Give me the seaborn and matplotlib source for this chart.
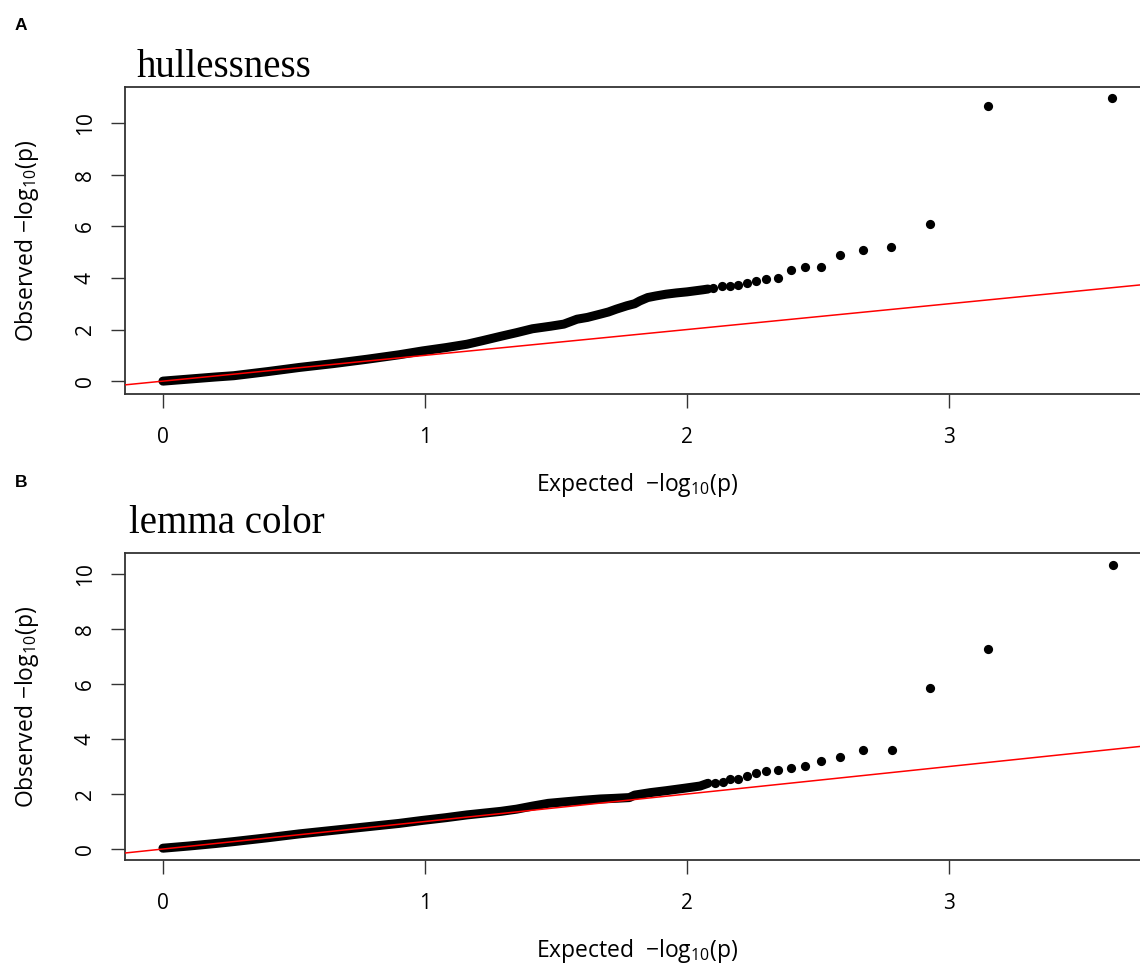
import numpy as np
import matplotlib
matplotlib.use("Agg")
import matplotlib.pyplot as plt
import seaborn as sns

# Values (expected vs observed -log10 p)
# panel A: hullessness
a_band_exp = [0.00, 0.10, 0.20, 0.27, 0.40, 0.52, 0.65, 0.78, 0.90, 0.99, 1.08, 1.16,
              1.22, 1.29, 1.35, 1.41, 1.48, 1.53, 1.58, 1.62, 1.67, 1.70, 1.73, 1.77,
              1.80, 1.82, 1.85, 1.88, 1.92, 1.96, 2.00, 2.03, 2.06, 2.08]
a_band_obs = [0.00, 0.08, 0.16, 0.21, 0.37, 0.53, 0.68, 0.85, 1.02, 1.17, 1.30, 1.43,
              1.57, 1.74, 1.88, 2.03, 2.13, 2.21, 2.40, 2.47, 2.60, 2.68, 2.79, 2.92,
              3.00, 3.11, 3.24, 3.30, 3.37, 3.42, 3.46, 3.50, 3.54, 3.57]
a_tail_exp = [2.10, 2.132, 2.164, 2.195, 2.229, 2.265, 2.303, 2.346, 2.397, 2.450,
              2.511, 2.584, 2.673, 2.780, 2.927, 3.147, 3.623]
a_tail_obs = [3.60, 3.67, 3.68, 3.72, 3.79, 3.89, 3.95, 3.98, 4.30, 4.42,
              4.44, 4.88, 5.09, 5.21, 6.09, 10.65, 10.97]

# panel B: lemma color
b_band_exp = [0.00, 0.10, 0.20, 0.27, 0.40, 0.52, 0.65, 0.78, 0.90, 0.99, 1.08, 1.16,
              1.25, 1.29, 1.35, 1.41, 1.47, 1.54, 1.60, 1.67, 1.72, 1.78, 1.80, 1.86,
              1.92, 1.99, 2.05, 2.08]
b_band_obs = [0.03, 0.11, 0.20, 0.27, 0.41, 0.55, 0.68, 0.81, 0.93, 1.04, 1.14, 1.24,
              1.33, 1.37, 1.45, 1.56, 1.66, 1.72, 1.77, 1.82, 1.84, 1.87, 1.96, 2.05,
              2.12, 2.21, 2.29, 2.39]
b_tail_exp = [2.107, 2.136, 2.164, 2.195, 2.229, 2.265, 2.303, 2.346, 2.397, 2.450,
              2.511, 2.584, 2.672, 2.781, 2.926, 3.147, 3.625]
b_tail_obs = [2.41, 2.45, 2.55, 2.55, 2.67, 2.75, 2.85, 2.87, 2.96, 3.02,
              3.21, 3.36, 3.61, 3.61, 5.87, 7.26, 10.33]

titles = ["hullessness", "lemma color"]
panel_tags = ["A", "B"]
x_ticks = [0, 1, 2, 3]
y_ticks = [0, 2, 4, 6, 8, 10]

sns.set_style("ticks")
plt.rcParams["font.family"] = ["Open Sans", "DejaVu Sans"]
plt.rcParams["mathtext.default"] = "regular"
plt.rcParams["text.color"] = "black"
plt.rcParams["axes.labelcolor"] = "black"
plt.rcParams["xtick.labelcolor"] = "black"
plt.rcParams["ytick.labelcolor"] = "black"

fig = plt.figure(figsize=(11.4, 9.66), dpi=100)

panels = [
    (a_band_exp, a_band_obs, a_tail_exp, a_tail_obs, (-0.50, 11.40), [0.1096, 0.5921, 0.8983, 0.3178], 137, 77, 30),
    (b_band_exp, b_band_obs, b_tail_exp, b_tail_obs, (-0.40, 10.76), [0.1096, 0.1097, 0.8983, 0.3178], 129, 533, 487),
]

for i, (bx, by, tx, ty, ylim, pos, title_x, title_base, tag_base) in enumerate(panels):
    ax = fig.add_axes(pos)
    # dense part of the QQ curve: overlapping dots look like a thick band
    sns.lineplot(x=bx, y=by, ax=ax, color="black", lw=6.5, sort=False,
                 estimator=None, solid_capstyle="round", solid_joinstyle="round", zorder=2)
    # sparse upper tail: single dots
    sns.scatterplot(x=tx, y=ty, ax=ax, color="black", s=44,
                    linewidth=0, zorder=3)
    # y = x reference line
    ax.axline((0, 0), slope=1, color="red", lw=1.1, zorder=4)

    ax.set_xlim(-0.145, 3.763)
    ax.set_ylim(*ylim)
    ax.set_xticks(x_ticks)
    ax.set_yticks(y_ticks)
    ax.tick_params(axis="both", direction="out", length=10, width=1.0,
                   color="#333333", labelsize=15)
    ax.tick_params(axis="x", pad=14)
    ax.tick_params(axis="y", pad=11)
    for lab in ax.get_yticklabels():
        lab.set_rotation(90)
        lab.set_va("center")
    for sp in ax.spines.values():
        sp.set_linewidth(1.3)
        sp.set_color("#333333")

    ax.set_xlabel("Expected  \u2212log$_{10}$(p)", fontsize=16.5)
    ax.set_ylabel("Observed \u2212log$_{10}$(p)", fontsize=16.5)
    ax.xaxis.set_label_coords(0.5, -0.25)
    ax.yaxis.set_label_coords(-0.082, 0.5)

    fig.text(title_x / 1140, 1 - title_base / 966, titles[i], family="Liberation Serif",
             fontsize=28, color="black", ha="left", va="baseline")
    fig.text(15 / 1140, 1 - tag_base / 966, panel_tags[i], family=["Liberation Sans"],
             fontweight="bold", fontsize=12.5, color="black", ha="left", va="baseline")

fig.savefig("out.png", dpi=100)
